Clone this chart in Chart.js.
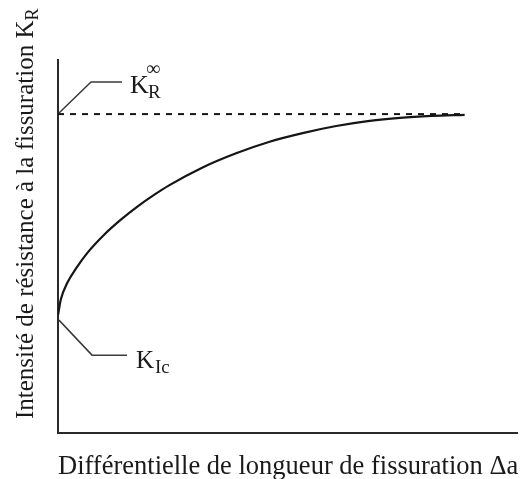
<!DOCTYPE html>
<html>
<head>
<meta charset="utf-8">
<script src="https://cdn.jsdelivr.net/npm/chart.js@4"></script>
<style>
  html, body { margin: 0; padding: 0; background: #fff; }
  #wrap { width: 525px; height: 479px; position: relative; }
</style>
</head>
<body>
<div id="wrap"><canvas id="c" width="525" height="479"></canvas></div>
<script>
// Resistance curve (R-curve): crack-growth resistance vs crack extension (arbitrary units)
const crackGrowth = [0, 0.6, 2.0, 4.2, 6.4, 10.0, 13.7, 17.3, 21.0, 24.2, 31.5, 38.8, 46.1, 53.3, 60.6, 67.9, 74.5, 81.4, 88.6];
const resistance  = [31.6, 35.7, 40.2, 44.6, 48.3, 53.1, 57.2, 60.7, 63.9, 66.4, 71.2, 75.0, 78.1, 80.4, 82.3, 83.7, 84.5, 85.0, 85.3];
const plateauX = [0, 88.6];
const plateauValue = 85.5;   // K_R infinity
const kIcValue = 31.6;       // K_Ic
const xTitle = "Différentielle de longueur de fissuration Δa";
const yTitle = "Intensité de résistance à la fissuration K";
const yTitleSub = "R";

const curvePts = crackGrowth.map((x, i) => ({ x: x, y: resistance[i] }));
const plateauPts = plateauX.map(x => ({ x: x, y: plateauValue }));

const SERIF = '"Liberation Serif", "Times New Roman", serif';

const annot = {
  id: 'annot',
  afterDraw(chart) {
    const ctx = chart.ctx;
    const xs = chart.scales.x, ys = chart.scales.y;
    ctx.save();
    ctx.fillStyle = '#1a1a1a';
    ctx.textBaseline = 'alphabetic';

    // K_R infinity label with leader line
    const ax = xs.getPixelForValue(0), ay = ys.getPixelForValue(plateauValue);
    ctx.strokeStyle = '#3a3a3a';
    ctx.lineWidth = 1.5;
    ctx.beginPath();
    ctx.moveTo(ax + 1, ay - 1);
    ctx.lineTo(ax + 33, ay - 32);
    ctx.lineTo(ax + 64, ay - 32);
    ctx.stroke();
    ctx.font = '26px ' + SERIF;
    ctx.fillText('K', ax + 72, ay - 21);
    ctx.font = '19px ' + SERIF;
    ctx.fillText('R', ax + 90, ay - 16);
    ctx.font = '20px ' + SERIF;
    ctx.fillText('∞', ax + 88, ay - 39);

    // K_Ic label with leader line
    const bx = xs.getPixelForValue(0), by = ys.getPixelForValue(kIcValue);
    ctx.beginPath();
    ctx.moveTo(bx + 1, by + 5);
    ctx.lineTo(bx + 34, by + 40);
    ctx.lineTo(bx + 69, by + 40);
    ctx.stroke();
    ctx.font = '25px ' + SERIF;
    ctx.fillText('K', bx + 78, by + 53);
    ctx.font = '19px ' + SERIF;
    ctx.fillText('Ic', bx + 97, by + 58);

    // X axis title
    ctx.font = '26.5px ' + SERIF;
    ctx.textAlign = 'left';
    ctx.fillText(xTitle, 58, 474);

    // Y axis title (rotated)
    ctx.translate(33, 419);
    ctx.rotate(-Math.PI / 2);
    ctx.font = '25px ' + SERIF;
    ctx.fillText(yTitle, 0, 0);
    const w = ctx.measureText(yTitle).width;
    ctx.font = '18px ' + SERIF;
    ctx.fillText(yTitleSub, w, 5);
    ctx.restore();
  }
};

new Chart(document.getElementById('c'), {
  type: 'line',
  data: {
    datasets: [
      {
        data: curvePts,
        borderColor: '#151515',
        borderWidth: 2.2,
        pointRadius: 0,
        cubicInterpolationMode: 'monotone',
        fill: false
      },
      {
        data: plateauPts,
        borderColor: '#151515',
        borderWidth: 2,
        borderDash: [6, 6],
        pointRadius: 0,
        fill: false
      }
    ]
  },
  options: {
    responsive: false,
    animation: false,
    events: [],
    layout: { padding: { left: 58, top: 60, right: 8, bottom: 46 } },
    plugins: { legend: { display: false }, tooltip: { enabled: false }, title: { display: false } },
    scales: {
      x: {
        type: 'linear', min: 0, max: 100,
        grid: { display: false, drawTicks: false },
        border: { display: true, color: '#2a2a2a', width: 2 },
        ticks: { display: false }
      },
      y: {
        type: 'linear', min: 0, max: 100,
        grid: { display: false, drawTicks: false },
        border: { display: true, color: '#2a2a2a', width: 2 },
        ticks: { display: false }
      }
    }
  },
  plugins: [annot]
});
</script>
</body>
</html>
